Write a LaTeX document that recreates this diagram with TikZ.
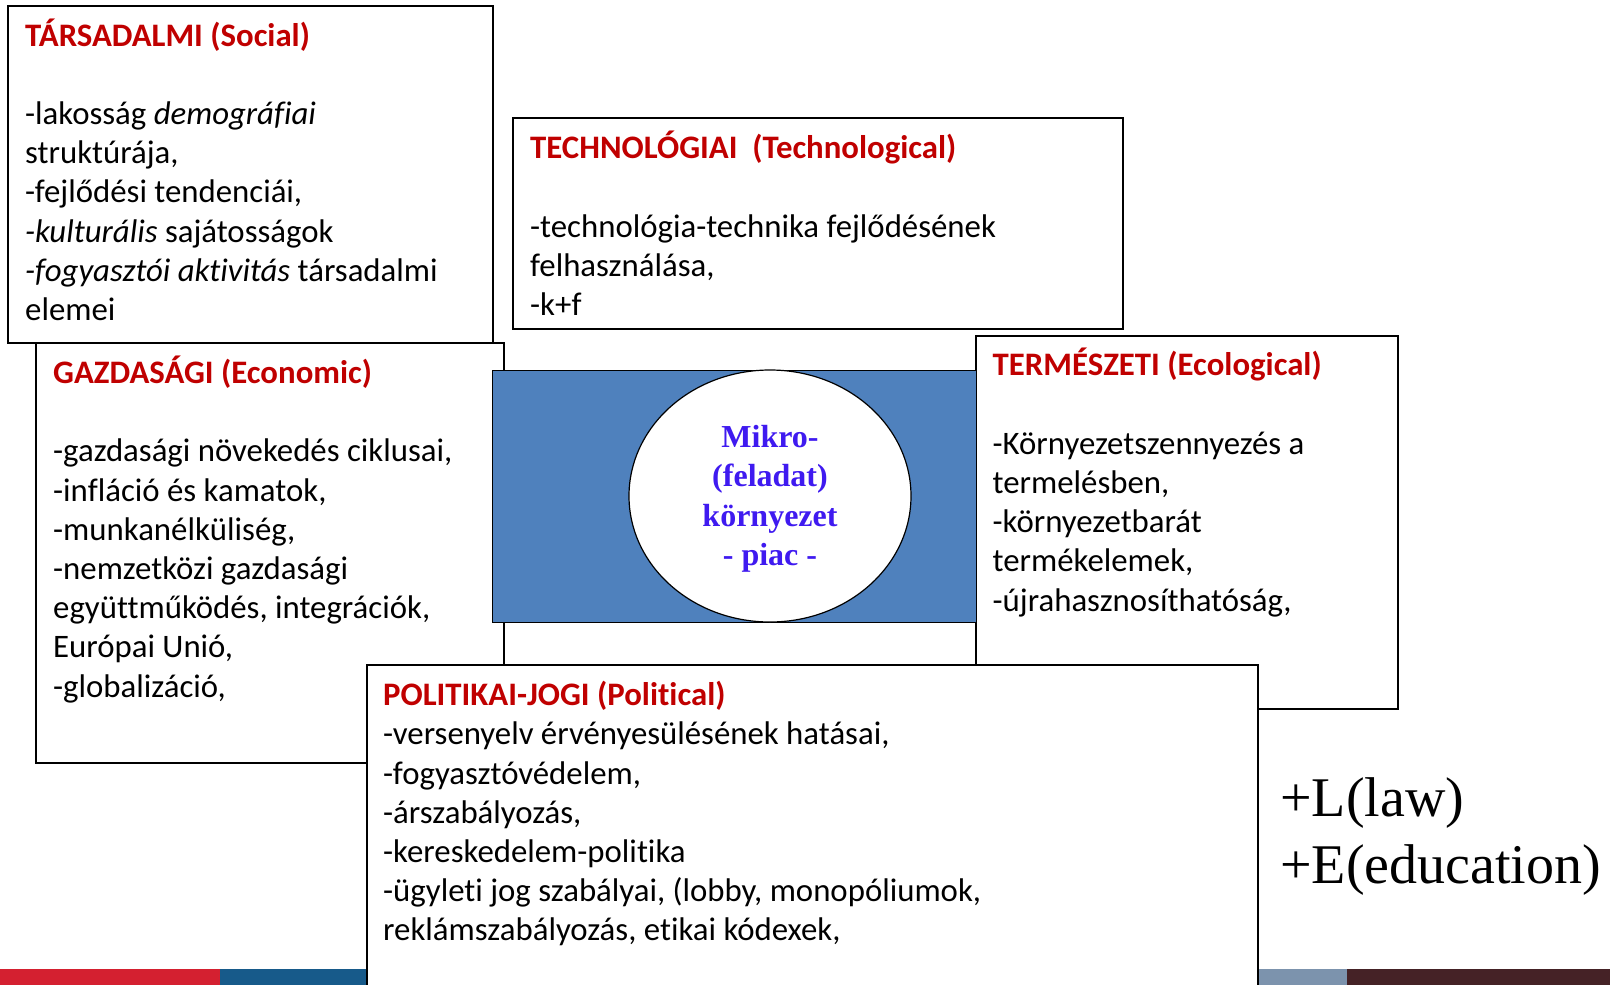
\documentclass[tikz,border=0pt]{standalone}
\usepackage{fontspec}
\setmainfont{Carlito}[Ligatures=NoCommon]
\newfontfamily\timesf{Liberation Serif}
\usetikzlibrary{shapes.geometric}
\definecolor{titlered}{HTML}{C00000}
\definecolor{midblue}{HTML}{4F81BD}
\definecolor{corefg}{HTML}{3F1AF0}
\definecolor{barred}{HTML}{D42030}
\definecolor{barblue}{HTML}{175A8A}
\definecolor{bargray}{HTML}{7C93AD}
\definecolor{barbrown}{HTML}{452226}
\tikzset{
  panel/.style={draw=black, fill=white, line width=1.5pt, anchor=north west, inner sep=0pt},
  paneltext/.style={anchor=north west, inner sep=0pt, align=left,
     font=\fontsize{32.8}{39.2}\selectfont},
}
\newcommand{\ttlline}[1]{\textbf{\textcolor{titlered}{#1}}}
\begin{document}
\begin{tikzpicture}[x=1pt,y=-1pt]
\useasboundingbox (0,0) rectangle (1610,985);
\fill[white] (0,0) rectangle (1610,985);
% bottom bar
\fill[barred] (0,969) rectangle (220,985);
\fill[barblue] (220,969) rectangle (366,985);
\fill[bargray] (1256,969) rectangle (1347,985);
\fill[barbrown] (1347,969) rectangle (1610,985);

% economic
\node[panel, minimum width=468pt, minimum height=420pt] (econ) at (35,342) {};
\node[paneltext] (econtxt) at (53,355.8) {\strut\ttlline{GAZDASÁGI (Economic)}\\[39.2pt]
-gazdasági növekedés ciklusai,\\
-infláció és kamatok,\\
-munkanélküliség,\\
-nemzetközi gazdasági\\
együttműködés, integrációk,\\
Európai Unió,\\
-globalizáció,};

% social
\node[panel, minimum width=485pt, minimum height=337pt] (social) at (7,5) {};
\node[paneltext] (socialtxt) at (25,18.4) {\strut\ttlline{TÁRSADALMI (Social)}\\[39.2pt]
-lakosság \textit{demográfiai}\\
struktúrája,\\
-fejlődési tendenciái,\\
\textit{-kulturális} sajátosságok\\
\textit{-fogyasztói aktivitás} társadalmi\\
elemei};

% technological
\node[panel, minimum width=610pt, minimum height=211pt] (tech) at (512,117) {};
\node[paneltext] (techtxt) at (530,131.1) {\strut\ttlline{TECHNOLÓGIAI\ \ (Technological)}\\[39.2pt]
-technológia-technika fejlődésének\\
felhasználása,\\
-k+f};

% ecological
\node[panel, minimum width=422pt, minimum height=373pt] (eco) at (975,335) {};
\node[paneltext] (ecotxt) at (992.5,348.2) {\strut\ttlline{TERMÉSZETI (Ecological)}\\[39.2pt]
-Környezetszennyezés a\\
termelésben,\\
-környezetbarát\\
termékelemek,\\
-újrahasznosíthatóság,};

% central
\node[draw=black, fill=midblue, line width=1.2pt, anchor=north west, inner sep=0pt,
      minimum width=484pt, minimum height=252pt] (midrect) at (492,370) {};
\node[ellipse, draw=black, fill=white, line width=1.2pt, inner sep=0pt,
      minimum width=282pt, minimum height=252pt] (core) at (770,496) {};
\node[anchor=north, inner sep=0pt, align=center, text=corefg,
      font=\timesf\bfseries\fontsize{32}{39.2}\selectfont] (coretxt) at (770,420)
      {\strut Mikro-\\(feladat)\\környezet\\- piac -};

% political
\node[panel, minimum width=891pt, minimum height=330pt] (pol) at (366,664) {};
\node[paneltext] (poltxt) at (383,678) {\strut\ttlline{POLITIKAI-JOGI (Political)}\\
-versenyelv érvényesülésének hatásai,\\
-fogyasztóvédelem,\\
-árszabályozás,\\
-kereskedelem-politika\\
-ügyleti jog szabályai, (lobby, monopóliumok,\\
reklámszabályozás, etikai kódexek,};

% extras
\node[anchor=north west, inner sep=0pt, align=left,
      font=\timesf\fontsize{56}{67}\selectfont] (extra) at (1280,769.1)
      {\strut +L(law)\\+E(education)};
\end{tikzpicture}
\end{document}
